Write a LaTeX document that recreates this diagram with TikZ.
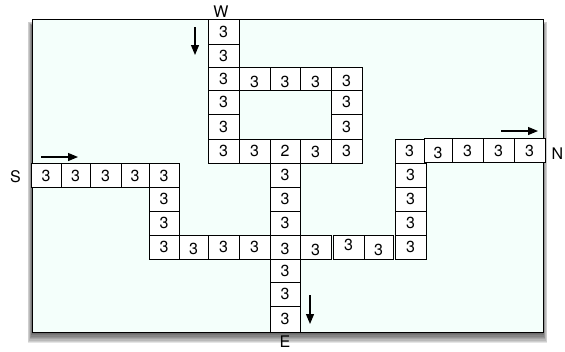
\documentclass[tikz,border=0pt]{standalone}
\usepackage{fontspec}
\setmainfont{TeX Gyre Heros}
\usetikzlibrary{arrows.meta}
\definecolor{bgfill}{HTML}{F4FFFB}
\newcommand\cellbox[7][0]{\node[cellstyle, minimum width={(#4-#3)*1pt}, minimum height={(#6-#5)*1pt}] (#2) at ({(#3+#4)/2},{(#5+#6)/2}) {\raisebox{-#1pt}[11pt][0pt]{#7}};}
\begin{document}
\begin{tikzpicture}[x=1pt,y=-1pt,
  cellstyle/.style={draw, line width=0.9pt, fill=white, inner sep=0pt, font=\fontsize{16}{16}\selectfont},
  arr/.style={line width=1.2pt, -{Triangle[length=10pt,width=8pt]}},
  lab/.style={font=\fontsize{16}{16}\selectfont, inner sep=0pt}]
\useasboundingbox (0,0) rectangle (565,351);
% shadow
\foreach \k in {0,...,7}
  \fill[black, opacity=0.1] ({32-0.6*\k},{26-0.6*\k}) rectangle ({543+0.6*\k},{334+1.3*\k});
\draw[line width=0.9pt, fill=bgfill] (32,19) rectangle (543,332);
% W column
\cellbox{w1}{208}{239}{19}{44}{3}
\cellbox{w2}{208}{239}{44}{67}{3}
\cellbox{w3}{208}{239}{67}{90}{3}
\cellbox{w4}{208}{239}{90}{114}{3}
\cellbox{w5}{208}{239}{114}{139}{3}
\cellbox{w6}{208}{239}{139}{163}{3}
% top row of loop
\cellbox[3]{t2}{239}{270}{67}{90}{3}
\cellbox[3]{t3}{270}{300}{67}{90}{3}
\cellbox[3]{t4}{300}{331}{67}{90}{3}
\cellbox[2]{t5}{331}{362}{67}{90}{3}
% right column of loop
\cellbox{r4}{331}{362}{90}{114}{3}
\cellbox{r5}{331}{362}{114}{139}{3}
\cellbox{r6}{331}{362}{139}{163}{3}
% bottom of loop
\cellbox{b2}{239}{270}{139}{163}{3}
\cellbox{b3}{270}{300}{139}{163}{2}
\cellbox[1]{b4}{300}{331}{139}{163}{3}
% column under 2
\cellbox{c1}{270}{300}{163}{187}{3}
\cellbox{c2}{270}{300}{187}{211}{3}
\cellbox{c3}{270}{300}{211}{235}{3}
\cellbox[2]{c4}{270}{300}{235}{259}{3}
\cellbox{c5}{270}{300}{259}{282}{3}
\cellbox{c6}{270}{300}{282}{306}{3}
\cellbox{c7}{270}{300}{306}{332}{3}
% S row
\cellbox[1]{s1}{31}{61}{163}{187}{3}
\cellbox[1]{s2}{61}{90}{163}{187}{3}
\cellbox[1]{s3}{90}{121}{163}{187}{3}
\cellbox[1]{s4}{121}{149}{163}{187}{3}
\cellbox[1]{s5}{149}{179}{163}{187}{3}
% column down from S row
\cellbox{d2}{149}{179}{187}{211}{3}
\cellbox{d3}{149}{179}{211}{235}{3}
\cellbox{d4}{149}{179}{235}{259}{3}
% bottom row
\cellbox[2]{e2}{179}{208}{235}{259}{3}
\cellbox{e3}{208}{239}{235}{259}{3}
\cellbox{e4}{239}{270}{235}{259}{3}
\cellbox[3]{f1}{300}{331}{235}{259}{3}
\cellbox[-2]{f2}{333}{364}{235}{259}{3}
\cellbox[3]{f3}{364}{393}{235}{259}{3}
% right column
\cellbox{g1}{395}{424}{139}{163}{3}
\cellbox{g2}{395}{426}{163}{187}{3}
\cellbox{g3}{395}{426}{187}{211}{3}
\cellbox{g4}{395}{426}{211}{235}{3}
\cellbox{g5}{395}{426}{235}{259}{3}
% N row
\cellbox[3]{n1}{424}{452}{138}{162}{3}
\cellbox[1]{n2}{452}{483}{138}{162}{3}
\cellbox[1]{n3}{483}{514}{138}{162}{3}
\cellbox[1]{n4}{514}{545}{138}{162}{3}
% labels
\node[lab] (lw) at (221,12) {W};
\node[lab] (ls) at (15.5,177) {S};
\node[lab] (le) at (285,342) {E};
\node[lab,anchor=west] (ln) at (551.5,154) {N};
% arrows
\coordinate (wa1) at (195,27); \coordinate (wa2) at (195,55);
\coordinate (sa1) at (41,157); \coordinate (sa2) at (78,157);
\coordinate (na1) at (501,131); \coordinate (na2) at (538,131);
\coordinate (ea1) at (310,295); \coordinate (ea2) at (310,324);
\draw[arr] (wa1) -- (wa2);
\draw[arr] (sa1) -- (sa2);
\draw[arr] (na1) -- (na2);
\draw[arr] (ea1) -- (ea2);
\end{tikzpicture}
\end{document}
